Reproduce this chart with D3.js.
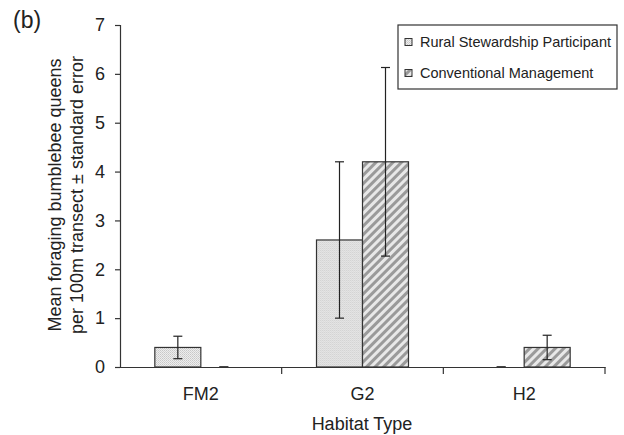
<!DOCTYPE html>
<html>
<head>
<meta charset="utf-8">
<script src="https://cdn.jsdelivr.net/npm/d3@7"></script>
<style>
  body { margin: 0; background: #fff; }
  svg { font-family: "Liberation Sans", Arial, sans-serif; }
</style>
</head>
<body>
<div id="chart"></div>
<script>
const categories = ["FM2", "G2", "H2"];
const seriesNames = ["Rural Stewardship Participant", "Conventional Management"];
const ruralValues = [0.4, 2.6, 0];
const ruralErrors = [0.23, 1.6, 0];
const conventionalValues = [0, 4.2, 0.4];
const conventionalErrors = [0, 1.93, 0.25];
const yTicks = [0, 1, 2, 3, 4, 5, 6, 7];

const width = 624, height = 435;
const mLeft = 120, mRight = 605, mTop = 25, mBottom = 367;
const barW = 46;

const svg = d3.select("#chart").append("svg")
  .attr("width", width).attr("height", height);

// fill patterns
const defs = svg.append("defs");
const dots = defs.append("pattern")
  .attr("id", "dots").attr("patternUnits", "userSpaceOnUse")
  .attr("width", 2).attr("height", 2);
dots.append("rect").attr("width", 2).attr("height", 2).attr("fill", "#ededed");
dots.append("rect").attr("width", 1).attr("height", 1).attr("fill", "#c8c8c8");
dots.append("rect").attr("x", 1).attr("y", 1).attr("width", 1).attr("height", 1).attr("fill", "#d4d4d4");

const hatch = defs.append("pattern")
  .attr("id", "hatch").attr("patternUnits", "userSpaceOnUse")
  .attr("width", 6).attr("height", 6)
  .attr("patternTransform", "rotate(45)");
hatch.append("rect").attr("width", 6).attr("height", 6).attr("fill", "#e8e8e8");
hatch.append("rect").attr("width", 3).attr("height", 6).attr("fill", "#9a9a9a");

const fills = ["url(#dots)", "url(#hatch)"];

const x0 = d3.scaleBand().domain(categories).range([mLeft, mRight]);
const x1 = d3.scaleBand().domain(seriesNames)
  .range([x0.bandwidth() / 2 - barW, x0.bandwidth() / 2 + barW]);
const y = d3.scaleLinear().domain([0, 7]).range([mBottom, mTop]);

const rows = categories.map((c, i) => ({
  cat: c,
  vals: [
    { s: seriesNames[0], v: ruralValues[i], e: ruralErrors[i], k: 0 },
    { s: seriesNames[1], v: conventionalValues[i], e: conventionalErrors[i], k: 1 }
  ]
}));

const groups = svg.selectAll("g.grp").data(rows).join("g")
  .attr("class", "grp")
  .attr("transform", d => `translate(${x0(d.cat)},0)`);

groups.selectAll("rect").data(d => d.vals.filter(v => v.v > 0)).join("rect")
  .attr("x", d => x1(d.s))
  .attr("y", d => y(d.v))
  .attr("width", x1.bandwidth())
  .attr("height", d => y(0) - y(d.v))
  .attr("fill", d => fills[d.k])
  .attr("stroke", "#333")
  .attr("stroke-width", 1.2);

// error bars
const eb = groups.selectAll("g.err").data(d => d.vals).join("g")
  .attr("class", "err")
  .attr("transform", d => `translate(${x1(d.s) + x1.bandwidth() / 2},0)`)
  .attr("stroke", "#222").attr("stroke-width", 1.2);
eb.append("line")
  .attr("y1", d => y(d.v - d.e)).attr("y2", d => y(d.v + d.e));
eb.append("line").attr("x1", -4.5).attr("x2", 4.5)
  .attr("y1", d => y(d.v + d.e)).attr("y2", d => y(d.v + d.e));
eb.append("line").attr("x1", -4.5).attr("x2", 4.5)
  .attr("y1", d => y(d.v - d.e)).attr("y2", d => y(d.v - d.e));

// axes
const yAxis = svg.append("g")
  .attr("transform", `translate(${mLeft},0)`)
  .call(d3.axisLeft(y).tickValues(yTicks).tickFormat(d3.format("d")).tickSize(5).tickPadding(10));
yAxis.selectAll("text").attr("font-size", 18).attr("fill", "#222");

const xAxis = svg.append("g")
  .attr("transform", `translate(0,${mBottom})`)
  .call(d3.axisBottom(x0).tickSize(0).tickPadding(20));
xAxis.selectAll("text").attr("font-size", 18).attr("fill", "#222");
xAxis.selectAll(".bnd").data(categories).join("line")
  .attr("class", "bnd")
  .attr("x1", d => x0(d) + x0.bandwidth()).attr("x2", d => x0(d) + x0.bandwidth())
  .attr("y1", 0).attr("y2", 7);

svg.selectAll(".domain, .tick line, .bnd").attr("stroke", "#333").attr("stroke-width", 1.2);

// titles
svg.append("text").attr("x", 362).attr("y", 430)
  .attr("text-anchor", "middle").attr("font-size", 18).attr("fill", "#222")
  .text("Habitat Type");

const yl = svg.append("text")
  .attr("transform", "translate(61,195) rotate(-90)")
  .attr("text-anchor", "middle").attr("font-size", 18).attr("fill", "#222");
yl.append("tspan").attr("x", 0).attr("y", 0).text("Mean foraging bumblebee queens");
yl.append("tspan").attr("x", 0).attr("y", 22).text("per 100m transect \u00b1 standard error");

svg.append("text").attr("x", 13).attr("y", 28)
  .attr("font-size", 23).attr("fill", "#222").text("(b)");

// legend
const lg = svg.append("g").attr("transform", "translate(398,25)");
lg.append("rect").attr("width", 219).attr("height", 64)
  .attr("fill", "#fff").attr("stroke", "#333").attr("stroke-width", 1.2);
const li = lg.selectAll("g.li").data(seriesNames).join("g")
  .attr("class", "li")
  .attr("transform", (d, i) => `translate(7,${17 + i * 31})`);
li.append("rect").attr("y", -3.5).attr("width", 7).attr("height", 7)
  .attr("fill", (d, i) => fills[i])
  .attr("stroke", "#333").attr("stroke-width", 1);
li.append("text").attr("x", 15).attr("y", 0).attr("dy", "0.35em")
  .attr("font-size", 14.5).attr("fill", "#222").text(d => d);
</script>
</body>
</html>
